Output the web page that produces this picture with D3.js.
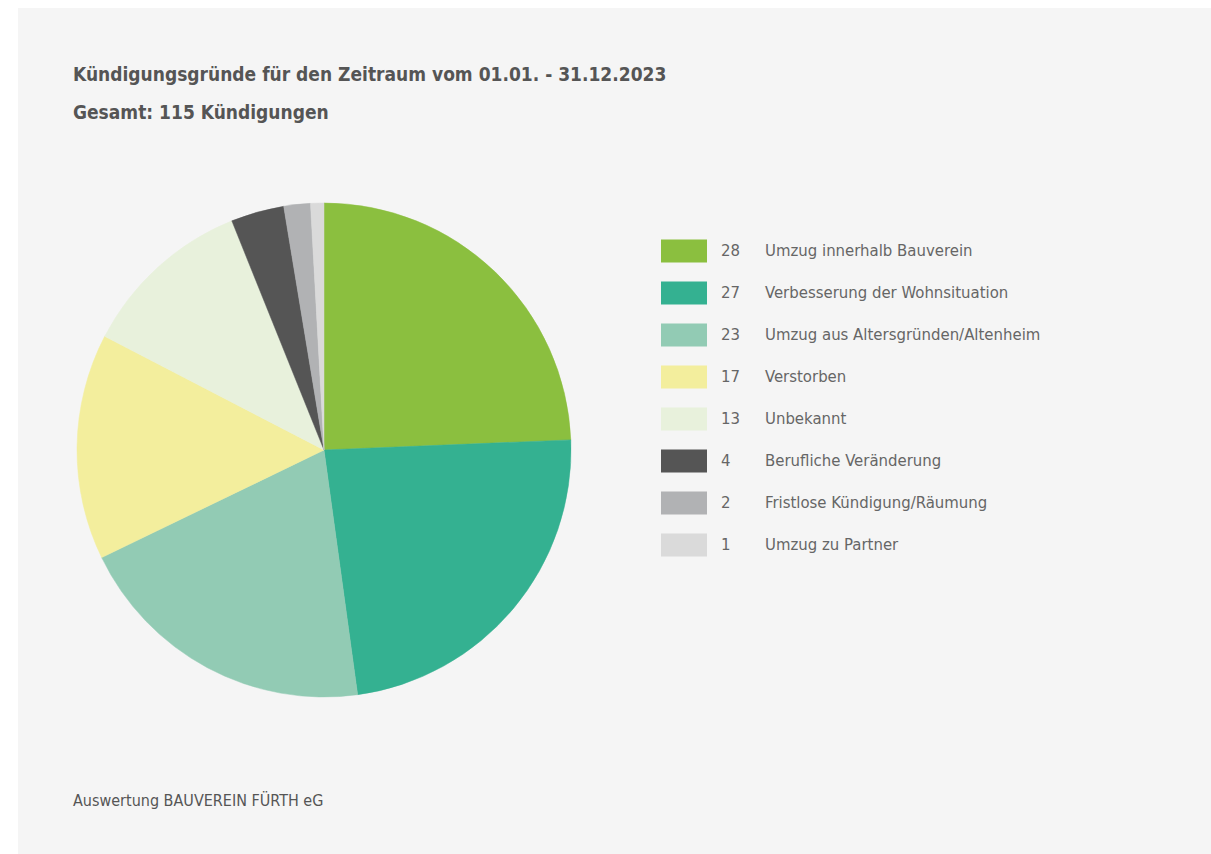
<!DOCTYPE html>
<html lang="de">
<head>
    <meta charset="UTF-8">
    <title>Kündigungsgründe 2023</title>
    <style>
        body, html {
          margin: 0;
          width: 100%;
          height: 100%;
          background: #fff;
        }
        svg { display: block; }
        .title {
            font-family: "DejaVu Sans Condensed", "Liberation Sans Narrow", sans-serif;
            font-weight: bold;
            font-size: 19px;
            fill: #555;
        }
        .legend text {
            font-family: "DejaVu Sans Condensed", "Liberation Sans Narrow", sans-serif;
            font-size: 16.6px;
            fill: #666;
        }
        .footer {
            font-family: "DejaVu Sans Condensed", "Liberation Sans Narrow", sans-serif;
            font-size: 16px;
            fill: #555;
        }
    </style>
</head>
<body>
    <svg width="1211" height="854"></svg>

    <script src="https://d3js.org/d3.v7.min.js"></script>
    <script>
        // Daten aus der Grafik
        const reasons = [
            "Umzug innerhalb Bauverein",
            "Verbesserung der Wohnsituation",
            "Umzug aus Altersgründen/Altenheim",
            "Verstorben",
            "Unbekannt",
            "Berufliche Veränderung",
            "Fristlose Kündigung/Räumung",
            "Umzug zu Partner"
        ];
        const counts = [28, 27, 23, 17, 13, 4, 2, 1];
        const colors = ["#8bbf3f", "#34b191", "#92cbb4", "#f3ee9d", "#e8f1dc", "#555555", "#b1b2b4", "#dadada"];

        const titleLines = [
            "Kündigungsgründe für den Zeitraum vom 01.01. - 31.12.2023",
            "Gesamt: 115 Kündigungen"
        ];
        const footerText = "Auswertung BAUVEREIN FÜRTH eG";

        const svg = d3.select("svg");

        // grauer Hintergrund
        svg.append("rect")
            .attr("x", 18).attr("y", 8)
            .attr("width", 1211 - 18).attr("height", 854 - 8)
            .attr("fill", "#f5f5f5");

        svg.selectAll(".title")
            .data(titleLines)
            .enter().append("text")
            .attr("class", "title")
            .attr("x", 73)
            .attr("y", (d, i) => 81 + i * 38)
            .text(d => d);

        const data = reasons.map((r, i) => ({ reason: r, count: counts[i] }));

        const color = d3.scaleOrdinal().domain(reasons).range(colors);

        const pie = d3.pie().value(d => d.count).sort(null);
        const arc = d3.arc().innerRadius(0).outerRadius(247);

        const pieG = svg.append("g")
            .attr("transform", "translate(324,450)");

        pieG.selectAll("path")
            .data(pie(data))
            .enter().append("path")
            .attr("d", arc)
            .attr("fill", d => color(d.data.reason))
            .attr("stroke", d => color(d.data.reason))
            .attr("stroke-width", 0.5);

        // Legende
        const rowY = d3.scaleBand().domain(reasons).range([230, 566]);

        const legend = svg.append("g")
            .attr("class", "legend")
            .selectAll("g")
            .data(data)
            .enter().append("g")
            .attr("transform", d => `translate(0,${rowY(d.reason) + rowY.bandwidth() / 2})`);

        legend.append("rect")
            .attr("x", 661).attr("y", -11.5)
            .attr("width", 46).attr("height", 23)
            .attr("fill", d => color(d.reason));

        legend.append("text")
            .attr("x", 721).attr("dy", "0.33em")
            .text(d => d.count);

        legend.append("text")
            .attr("x", 765).attr("dy", "0.33em")
            .text(d => d.reason);

        svg.append("text")
            .attr("class", "footer")
            .attr("x", 73).attr("y", 806)
            .text(footerText);
    </script>
</body>
</html>
